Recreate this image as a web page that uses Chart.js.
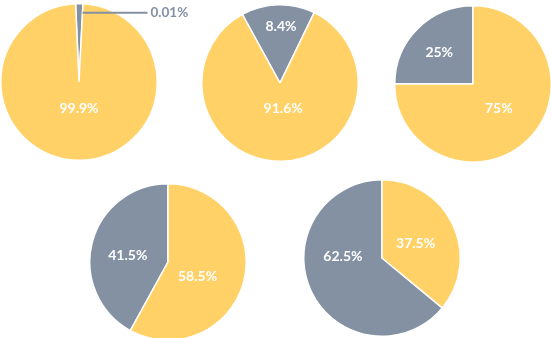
<!DOCTYPE html>
<html>
<head>
<meta charset="utf-8">
<script src="https://cdn.jsdelivr.net/npm/chart.js@4.4.1/dist/chart.umd.min.js"></script>
<style>
    html, body { margin: 0; padding: 0; background: #ffffff; overflow: hidden; }
    body { width: 551px; height: 338px; position: relative; }
    canvas { position: absolute; }
</style>
</head>
<body>
<script>
// Shares as drawn in the picture (percent of each pie)
const grayShare = [1.5, 15.2, 25, 42, 64];
const yellowShare = [98.5, 84.8, 75, 58, 36];

// Printed labels
const grayLabels = ['0.01%', '8.4%', '25%', '41.5%', '62.5%'];
const yellowLabels = ['99.9%', '91.6%', '75%', '58.5%', '37.5%'];

const GRAY = '#8391a3';
const YELLOW = '#ffd166';
const SIZE = 160;

// where each pie sits, its start angle and where its labels go
// label place = [angle clockwise from top in degrees, fraction of radius]
const pies = [
    { cx: 78.5, cy: 81.5, rotation: -2.5, gray: null, yellow: [180, 0.34],
      extraRight: 60, callout: { frac: 0.885, length: 65, gap: 3 } },
    { cx: 280, cy: 82.5, rotation: -28.8, gray: [1, 0.72], yellow: [173, 0.33] },
    { cx: 472.5, cy: 84, rotation: null, gray: [313, 0.59], yellow: [133, 0.45] },
    { cx: 167.8, cy: 261.5, rotation: null, gray: [279, 0.52], yellow: [116, 0.42] },
    { cx: 382, cy: 257.5, rotation: null, gray: [272, 0.5], yellow: [66, 0.47] }
];

const sliceLabels = {
    id: 'sliceLabels',
    afterDatasetsDraw(chart, args, opts) {
        const ctx = chart.ctx;
        const arcs = chart.getDatasetMeta(0).data;
        ctx.save();
        arcs.forEach((arc, i) => {
            const place = opts.places[i];
            if (!place) return;
            const a = place[0] * Math.PI / 180 - Math.PI / 2;
            const r = arc.outerRadius * place[1];
            ctx.font = 'bold 14px Lato';
            ctx.fillStyle = '#ffffff';
            ctx.textAlign = 'center';
            ctx.textBaseline = 'middle';
            ctx.fillText(opts.texts[i], arc.x + r * Math.cos(a), arc.y + r * Math.sin(a));
        });
        // outside label with leader line for a tiny slice
        if (opts.callout) {
            const arc = arcs[0];
            const c = opts.callout;
            const r = arc.outerRadius * c.frac;
            const x0 = arc.x + r * Math.cos(arc.endAngle);
            const y0 = arc.y + r * Math.sin(arc.endAngle);
            ctx.strokeStyle = GRAY;
            ctx.lineWidth = 2;
            ctx.beginPath();
            ctx.moveTo(x0, y0);
            ctx.lineTo(x0 + c.length, y0);
            ctx.stroke();
            ctx.font = 'bold 13.5px Lato';
            ctx.fillStyle = GRAY;
            ctx.textAlign = 'left';
            ctx.textBaseline = 'middle';
            ctx.fillText(opts.texts[0], x0 + c.length + c.gap, y0);
        }
        ctx.restore();
    }
};

pies.forEach((p, i) => {
    const extra = p.extraRight || 0;
    const canvas = document.createElement('canvas');
    canvas.width = SIZE + extra;
    canvas.height = SIZE;
    canvas.style.left = (p.cx - SIZE / 2) + 'px';
    canvas.style.top = (p.cy - SIZE / 2) + 'px';
    canvas.style.width = (SIZE + extra) + 'px';
    canvas.style.height = SIZE + 'px';
    document.body.appendChild(canvas);

    const rotation = p.rotation !== null ? p.rotation : -grayShare[i] * 3.6;

    new Chart(canvas.getContext('2d'), {
        type: 'pie',
        data: {
            labels: ['gray', 'yellow'],
            datasets: [{
                data: [grayShare[i], yellowShare[i]],
                backgroundColor: [GRAY, YELLOW],
                borderColor: '#ffffff',
                borderWidth: 1.5
            }]
        },
        options: {
            responsive: false,
            animation: false,
            rotation: rotation,
            layout: { padding: { left: 1, top: 1, bottom: 1, right: 1 + extra } },
            plugins: {
                legend: { display: false },
                tooltip: { enabled: false },
                sliceLabels: {
                    places: [p.gray, p.yellow],
                    texts: [grayLabels[i], yellowLabels[i]],
                    callout: p.callout || null
                }
            }
        },
        plugins: [sliceLabels]
    });
});
</script>
</body>
</html>
